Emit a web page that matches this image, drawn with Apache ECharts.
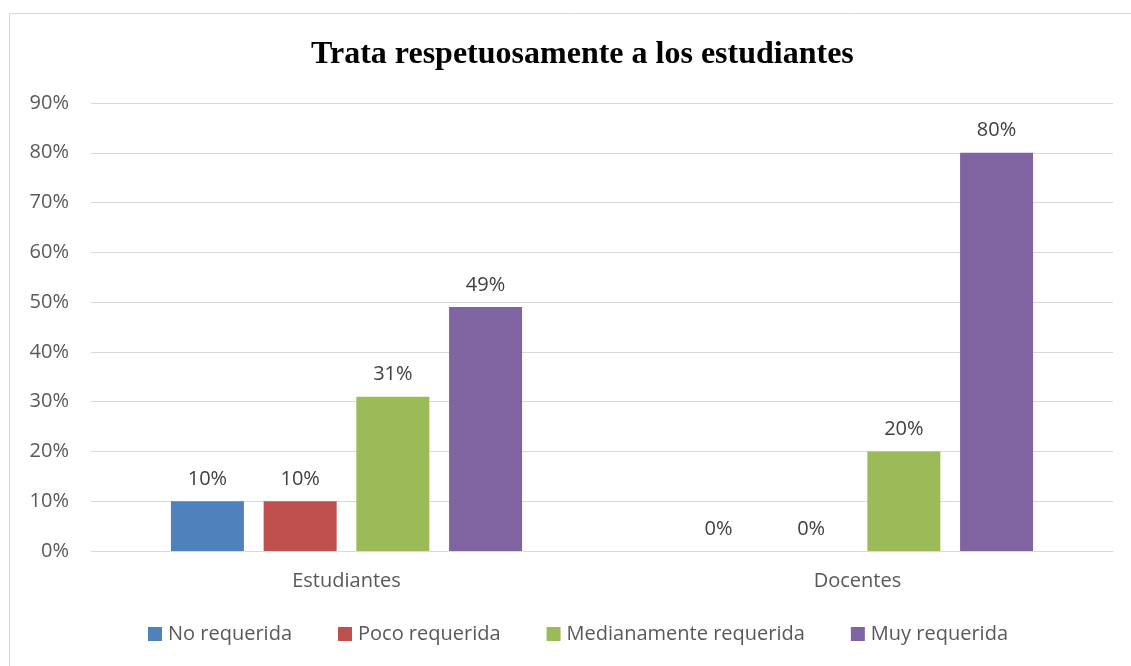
<!DOCTYPE html>
<html>
<head>
<meta charset="utf-8">
<script src="https://cdn.jsdelivr.net/npm/echarts@6/dist/echarts.min.js"></script>
<style>
  html, body { margin: 0; padding: 0; background: #fff; }
  #chart { width: 1131px; height: 666px; }
</style>
</head>
<body>
<div id="chart"></div>
<script>
// grupos encuestados
const categories = ['Estudiantes', 'Docentes']
// porcentaje por nivel de requerimiento
const noRequerida = [10, 0]
const pocoRequerida = [10, 0]
const medianamente = [31, 20]
const muyRequerida = [49, 80]

const fontFamily = '"Open Sans", "Noto Sans", sans-serif'
const textColor = '#595959'
const fontSize = 20

const chart = echarts.init(document.getElementById('chart'))

function barSeries (name, color, data) {
  return {
    name: name,
    type: 'bar',
    barWidth: 73,
    barGap: '27%',
    itemStyle: { color: color },
    label: {
      show: true,
      position: 'top',
      distance: 12,
      formatter: '{c}%',
      color: '#404040',
      fontSize: fontSize,
      fontFamily: fontFamily
    },
    data: data
  }
}

const options = {
  animation: false,
  graphic: [{
    type: 'rect',
    shape: { x: 9.5, y: 13.5, width: 1140, height: 700 },
    style: { fill: 'none', stroke: '#d9d9d9', lineWidth: 1 },
    silent: true
  }],
  title: {
    text: 'Trata respetuosamente a los estudiantes',
    left: 306,
    top: 34,
    textStyle: {
      fontFamily: '"Liberation Serif", "Times New Roman", serif',
      fontWeight: 'bold',
      fontSize: 32,
      color: '#000'
    }
  },
  grid: {
    left: 91,
    right: 18,
    top: 103,
    bottom: 115
  },
  legend: {
    bottom: 17,
    left: 143,
    icon: 'rect',
    itemWidth: 14,
    itemHeight: 14,
    itemGap: 46,
    textStyle: { color: textColor, fontSize: fontSize, fontFamily: fontFamily, padding: [0, 0, 0, 1] },
    data: ['No requerida', 'Poco requerida', 'Medianamente requerida', 'Muy requerida']
  },
  xAxis: {
    type: 'category',
    data: categories,
    axisLine: { lineStyle: { color: '#d9d9d9' } },
    axisTick: { show: false },
    axisLabel: { color: textColor, fontSize: fontSize, fontFamily: fontFamily, margin: 20 }
  },
  yAxis: {
    type: 'value',
    min: 0,
    max: 90,
    interval: 10,
    axisLine: { show: false },
    axisTick: { show: false },
    axisLabel: {
      formatter: '{value}%',
      color: textColor,
      fontSize: fontSize,
      fontFamily: fontFamily,
      margin: 22
    },
    splitLine: { lineStyle: { color: '#d9d9d9' } }
  },
  series: [
    barSeries('No requerida', '#4f81bd', noRequerida),
    barSeries('Poco requerida', '#c0504d', pocoRequerida),
    barSeries('Medianamente requerida', '#9bbb59', medianamente),
    barSeries('Muy requerida', '#8064a2', muyRequerida)
  ]
}
chart.setOption(options)
</script>
</body>
</html>
